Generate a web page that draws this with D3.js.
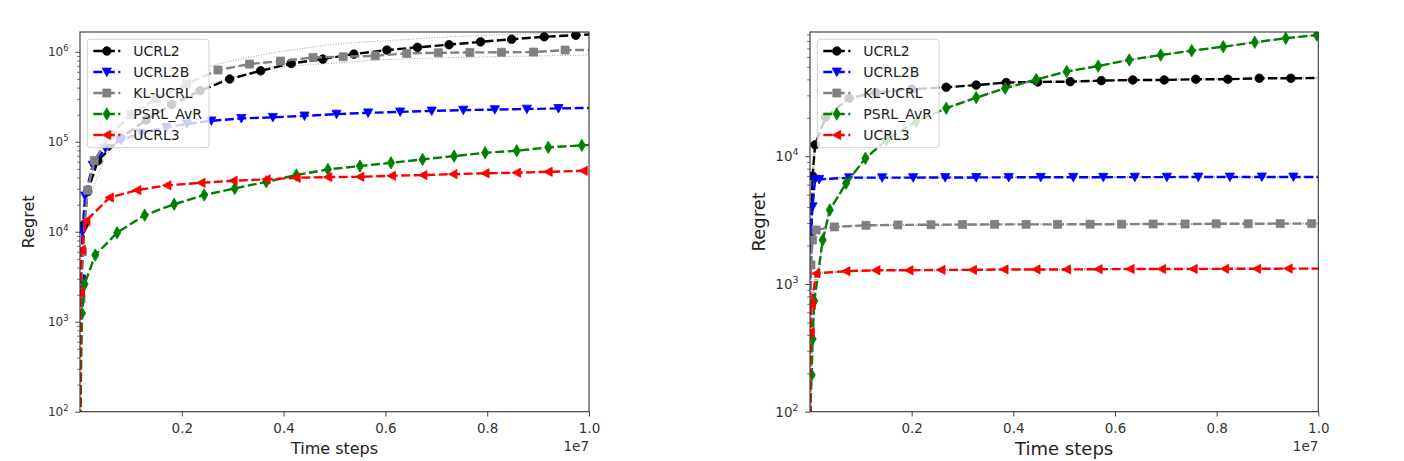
<!DOCTYPE html>
<html><head><meta charset="utf-8">
<script src="https://cdn.jsdelivr.net/npm/d3@7"></script>
<style>body{margin:0;background:#fff} svg{display:block} text{font-family:"DejaVu Sans",sans-serif}</style>
</head><body><svg id="c" width="1404" height="461"></svg>
<script>
// ---------------- DATA (time in units of 1e7 steps) ----------------
const seriesNames = ["UCRL2", "UCRL2B", "KL-UCRL", "PSRL_AvR", "UCRL3"];
const xTicks = [0.2, 0.4, 0.6, 0.8, 1.0];
const leftYTicks = [1e2, 1e3, 1e4, 1e5, 1e6];
const rightYTicks = [1e2, 1e3, 1e4];

// Left panel
const leftUCRL2T = [0, 0.003, 0.008, 0.015, 0.035, 0.08, 0.13, 0.18, 0.236, 0.294, 0.355, 0.415, 0.477, 0.538, 0.603, 0.663, 0.725, 0.787, 0.848, 0.912, 0.974, 1.0];
const leftUCRL2V = [60, 3000, 12000, 28000, 61500, 110000, 175000, 260000, 370000, 498000, 615000, 743000, 830000, 943000, 1045000, 1120000, 1200000, 1290000, 1380000, 1470000, 1530000, 1560000];
const leftUCRL2BT = [0, 0.002, 0.005, 0.01, 0.025, 0.05, 0.081, 0.12, 0.17, 0.21, 0.258, 0.317, 0.379, 0.441, 0.504, 0.566, 0.629, 0.691, 0.753, 0.815, 0.878, 0.940, 1.0];
const leftUCRL2BV = [60, 3000, 10000, 25000, 55000, 85000, 104000, 125000, 145000, 158000, 171000, 182000, 187000, 194000, 203000, 210000, 215000, 220000, 225000, 228000, 231000, 235000, 238000];
const leftKLT = [0, 0.002, 0.005, 0.015, 0.028, 0.06, 0.1, 0.15, 0.21, 0.271, 0.333, 0.394, 0.458, 0.517, 0.580, 0.642, 0.704, 0.766, 0.828, 0.891, 0.953, 1.0];
const leftKLV = [60, 1800, 6000, 29000, 62000, 120000, 200000, 300000, 440000, 627000, 730000, 788000, 866000, 880000, 903000, 960000, 975000, 985000, 988000, 993000, 1045000, 1050000];
const leftPSRLT = [0, 0.004, 0.009, 0.030, 0.073, 0.127, 0.185, 0.244, 0.304, 0.366, 0.425, 0.487, 0.550, 0.611, 0.673, 0.735, 0.796, 0.858, 0.920, 0.986, 1.0];
const leftPSRLV = [60, 1240, 2620, 5510, 9750, 15300, 20200, 25600, 30300, 35900, 42700, 49300, 53700, 58400, 63700, 69300, 75500, 79400, 86700, 91200, 92500];
const leftUCRL3T = [0, 0.001, 0.003, 0.012, 0.058, 0.112, 0.171, 0.238, 0.301, 0.366, 0.425, 0.487, 0.550, 0.612, 0.674, 0.733, 0.796, 0.858, 0.920, 0.989, 1.0];
const leftUCRL3V = [60, 2080, 6300, 13200, 24000, 29000, 32800, 35000, 36900, 38200, 39800, 40500, 40800, 41900, 42600, 43700, 44600, 45300, 46400, 47600, 47800];
const leftBandT = [0.02, 0.05, 0.1, 0.15, 0.2, 0.25, 0.3, 0.39, 0.5, 0.6, 0.7, 0.8, 0.9, 1.0];
const leftBandUpper = [40000, 110000, 230000, 370000, 520000, 680000, 800000, 1000000, 1220000, 1330000, 1440000, 1530000, 1600000, 1650000];
const leftBandLower = [25000, 70000, 160000, 250000, 340000, 430000, 520000, 681000, 750000, 820000, 855000, 880000, 900000, 920000];

// Right panel
const rightUCRL2T = [0, 0.002, 0.005, 0.010, 0.031, 0.077, 0.13, 0.20, 0.268, 0.327, 0.386, 0.448, 0.512, 0.573, 0.635, 0.697, 0.759, 0.822, 0.884, 0.946, 1.0];
const rightUCRL2V = [60, 2500, 7000, 12300, 20300, 28500, 31500, 33500, 34700, 36100, 37800, 38200, 38400, 39100, 39600, 39600, 40100, 40100, 40800, 40800, 41000];
const rightUCRL2BT = [0, 0.002, 0.005, 0.010, 0.018, 0.077, 0.142, 0.203, 0.266, 0.327, 0.391, 0.454, 0.518, 0.577, 0.639, 0.702, 0.764, 0.826, 0.889, 0.951, 1.0];
const rightUCRL2BV = [60, 2570, 4030, 6600, 6600, 6800, 6800, 6810, 6820, 6830, 6840, 6850, 6850, 6860, 6870, 6870, 6880, 6880, 6890, 6890, 6890];
const rightKLT = [0, 0.002, 0.005, 0.012, 0.048, 0.110, 0.173, 0.238, 0.300, 0.363, 0.425, 0.487, 0.551, 0.613, 0.675, 0.738, 0.799, 0.862, 0.925, 0.987, 1.0];
const rightKLV = [60, 1410, 2210, 2650, 2800, 2880, 2900, 2910, 2920, 2930, 2930, 2930, 2940, 2940, 2950, 2950, 2960, 2960, 2970, 2970, 2970];
const rightPSRLT = [0, 0.0033, 0.005, 0.0085, 0.025, 0.039, 0.071, 0.109, 0.150, 0.209, 0.268, 0.327, 0.384, 0.445, 0.505, 0.567, 0.628, 0.690, 0.751, 0.813, 0.875, 0.936, 0.997, 1.0];
const rightPSRLV = [95, 194, 371, 736, 2210, 3800, 6150, 9640, 13400, 18700, 23800, 28800, 34100, 39900, 46100, 50900, 56800, 62100, 67100, 72100, 78100, 84000, 89100, 89300];
const rightUCRL3T = [0, 0.001, 0.003, 0.012, 0.071, 0.130, 0.195, 0.258, 0.320, 0.382, 0.445, 0.505, 0.567, 0.630, 0.692, 0.754, 0.816, 0.879, 0.941, 1.0];
const rightUCRL3V = [60, 420, 690, 1210, 1260, 1280, 1280, 1290, 1290, 1300, 1300, 1300, 1305, 1310, 1310, 1310, 1315, 1315, 1320, 1320];

// ---------------- STYLE ----------------
const colors = ["#000000", "#0000ff", "#808080", "#008000", "#ff0000"];
const markers = ["circle", "triDown", "square", "thinDiamond", "triLeft"];
const markerPaths = {
  circle: d3.symbol(d3.symbolCircle, Math.PI * 4.3 * 4.3)(),
  triDown: "M-4.6,-3.9L4.6,-3.9L0,4.6Z",
  square: "M-4,-4H4V4H-4Z",
  thinDiamond: "M0,-6.2L3.6,0L0,6.2L-3.6,0Z",
  triLeft: "M-4.6,0L3.9,-4.6L3.9,4.6Z"
};

const svg = d3.select("#c");

const panels = [
  { id: "L", x0: 80, x1: 589, y0: 32, y1: 411.7, yDomain: [100, 1.66e6], yTicks: leftYTicks,
    ytFont: 12, labFont: 16, ylabX: 33.5, xlabY: 453.5, underDots: false,
    series: [[leftUCRL2T, leftUCRL2V], [leftUCRL2BT, leftUCRL2BV], [leftKLT, leftKLV], [leftPSRLT, leftPSRLV], [leftUCRL3T, leftUCRL3V]],
    bands: [[leftBandT, leftBandUpper], [leftBandT, leftBandLower]] },
  { id: "R", x0: 810, x1: 1318.3, y0: 32, y1: 411.7, yDomain: [100, 94000], yTicks: rightYTicks,
    ytFont: 13.5, labFont: 18, ylabX: 765, xlabY: 455, underDots: true,
    series: [[rightUCRL2T, rightUCRL2V], [rightUCRL2BT, rightUCRL2BV], [rightKLT, rightKLV], [rightPSRLT, rightPSRLV], [rightUCRL3T, rightUCRL3V]],
    bands: [] }
];

panels.forEach(p => {
  const x = d3.scaleLinear().domain([0, 1]).range([p.x0, p.x1]);
  const y = d3.scaleLog().domain(p.yDomain).range([p.y1, p.y0]);
  const g = svg.append("g");
  const clipId = "clip" + p.id;
  svg.append("clipPath").attr("id", clipId).append("rect")
    .attr("x", p.x0).attr("y", p.y0).attr("width", p.x1 - p.x0).attr("height", p.y1 - p.y0);
  const plot = g.append("g").attr("clip-path", `url(#${clipId})`);
  const line = d3.line().x(d => x(d[0])).y(d => y(d[1]));

  p.bands.forEach(b => {
    plot.append("path").attr("d", line(d3.zip(b[0], b[1])))
      .attr("fill", "none").attr("stroke", "#9a9a9a").attr("stroke-width", 0.9)
      .attr("stroke-dasharray", "1,1.6");
  });

  p.series.forEach((s, i) => {
    const pts = d3.zip(s[0], s[1]);
    if (p.underDots) {
      plot.append("path").attr("d", line(pts)).attr("fill", "none")
        .attr("stroke", "#b0b0b0").attr("stroke-width", 2).attr("stroke-dasharray", "1.4,1.8");
    }
    plot.append("path").attr("d", line(pts)).attr("fill", "none")
      .attr("stroke", colors[i]).attr("stroke-width", 2.4).attr("stroke-dasharray", "9,3.5");
    plot.selectAll(null).data(pts.filter(d => d[0] < 1)).enter().append("path")
      .attr("transform", d => `translate(${x(d[0])},${y(d[1])})`)
      .attr("d", markerPaths[markers[i]])
      .attr("fill", colors[i]).attr("stroke", colors[i]).attr("stroke-width", 0.8);
  });

  // X axis
  const xa = g.append("g").attr("transform", `translate(0,${p.y1})`)
    .call(d3.axisBottom(x).tickValues(xTicks).tickFormat(d3.format(".1f")).tickSize(4.8).tickPadding(6.5));
  xa.select(".domain").remove();
  xa.selectAll(".tick line").attr("stroke", "#333").attr("stroke-width", 0.9);
  xa.selectAll(".tick text").attr("font-size", 13.5).attr("fill", "#333")
    .attr("font-family", "DejaVu Sans");

  // Y axis major ticks
  const ya = g.append("g").attr("transform", `translate(${p.x0},0)`)
    .call(d3.axisLeft(y).tickValues(p.yTicks).tickFormat("").tickSize(4.8));
  ya.select(".domain").remove();
  ya.selectAll(".tick line").attr("stroke", "#333").attr("stroke-width", 0.9);
  // minor ticks
  const minor = [];
  for (let e = 2; e <= 6; e++) for (let m = 2; m <= 9; m++) {
    const v = m * Math.pow(10, e);
    if (v > p.yDomain[0] && v < p.yDomain[1]) minor.push(v);
  }
  const ym = g.append("g").attr("transform", `translate(${p.x0},0)`)
    .call(d3.axisLeft(y).tickValues(minor).tickFormat("").tickSize(2.8));
  ym.select(".domain").remove();
  ym.selectAll(".tick line").attr("stroke", "#333").attr("stroke-width", 0.7);
  // y tick labels with superscript
  p.yTicks.forEach(v => {
    const t = g.append("text").attr("x", p.x0 - 11.5).attr("y", y(v) + p.ytFont * 0.36)
      .attr("text-anchor", "end").attr("font-size", p.ytFont).attr("fill", "#333");
    t.append("tspan").text("10");
    t.append("tspan").attr("dy", -p.ytFont * 0.42).attr("font-size", p.ytFont * 0.7)
      .text(String(Math.round(Math.log10(v))));
  });

  // spines
  g.append("rect").attr("x", p.x0).attr("y", p.y0).attr("width", p.x1 - p.x0).attr("height", p.y1 - p.y0)
    .attr("fill", "none").attr("stroke", "#333").attr("stroke-width", 1.1);

  // labels
  g.append("text").attr("x", (p.x0 + p.x1) / 2).attr("y", p.xlabY).attr("text-anchor", "middle")
    .attr("font-size", p.labFont).attr("fill", "#222").text("Time steps");
  g.append("text").attr("transform", `translate(${p.ylabX},${(p.y0 + p.y1) / 2}) rotate(-90)`)
    .attr("text-anchor", "middle").attr("font-size", p.labFont).attr("fill", "#222").text("Regret");
  g.append("text").attr("x", p.x1).attr("y", 450.5).attr("text-anchor", "end")
    .attr("font-size", 13.5).attr("fill", "#333").text("1e7");

  // legend
  const lx = p.x0 + 7.3, ly = 39.3;
  const lg = g.append("g");
  lg.append("rect").attr("x", lx).attr("y", ly).attr("width", 121.7).attr("height", 108.4)
    .attr("rx", 3).attr("fill", "#fff").attr("fill-opacity", 0.8)
    .attr("stroke", "#d0d0d0").attr("stroke-width", 1);
  seriesNames.forEach((name, i) => {
    const cy = 51 + i * 21;
    lg.append("line").attr("x1", lx + 6).attr("x2", lx + 33).attr("y1", cy).attr("y2", cy)
      .attr("stroke", colors[i]).attr("stroke-width", 2.4).attr("stroke-dasharray", "9,3.5");
    lg.append("path").attr("transform", `translate(${lx + 19.5},${cy})`).attr("d", markerPaths[markers[i]])
      .attr("fill", colors[i]).attr("stroke", colors[i]).attr("stroke-width", 0.8);
    lg.append("text").attr("x", lx + 46).attr("y", cy + 5).attr("font-size", 14).attr("fill", "#222").text(name);
  });
});
</script>
</body></html>
